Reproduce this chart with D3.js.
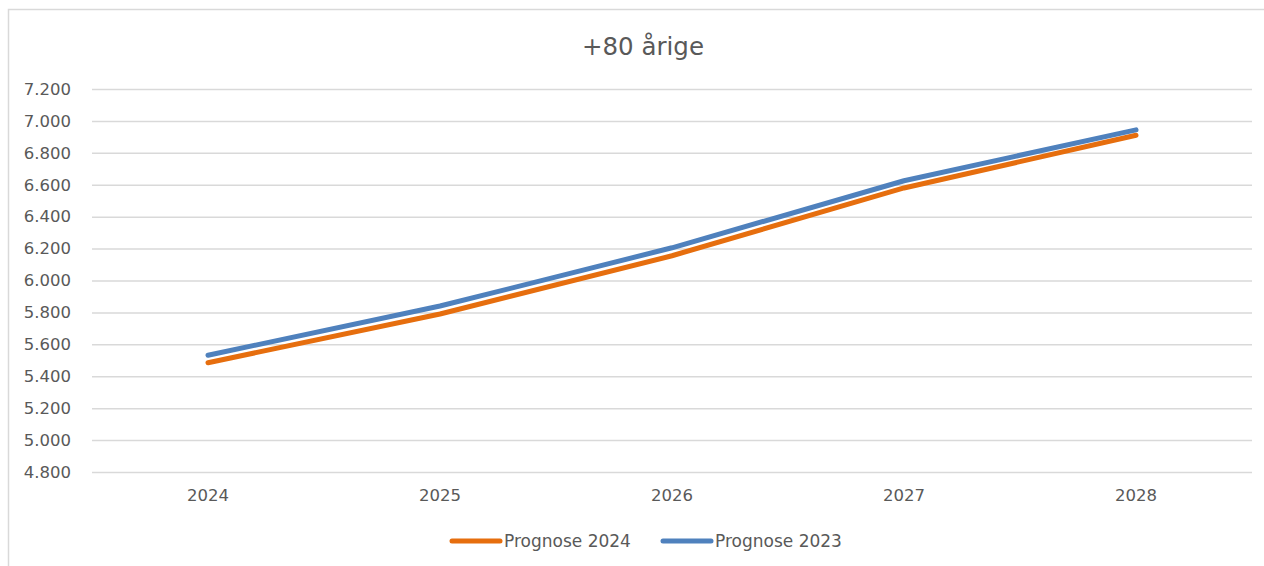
<!DOCTYPE html>
<html>
<head>
<meta charset="utf-8">
<script src="https://cdn.jsdelivr.net/npm/d3@7"></script>
<style>
body{margin:0;background:#fff;}
svg{display:block;}
text{font-family:"DejaVu Sans",sans-serif;fill:#595959;}
</style>
</head>
<body>
<svg id="c" width="1264" height="566"></svg>
<script>
const title = "+80 årige";
const years = ["2024","2025","2026","2027","2028"];
const prognose2024 = [5485, 5790, 6155, 6580, 6910];
const prognose2023 = [5532, 5840, 6205, 6625, 6944];
const yTicks = [4800,5000,5200,5400,5600,5800,6000,6200,6400,6600,6800,7000,7200];
const seriesNames = ["Prognose 2024","Prognose 2023"];
const seriesColors = ["#e66e0e","#4f81bd"];

const FONT = '"DejaVu Sans",sans-serif';
const svg = d3.select("#c");
svg.append("rect").attr("x",8.5).attr("y",9.5).attr("width",1300).attr("height",600)
  .attr("fill","#fff").attr("stroke","#d9d9d9").attr("stroke-width",1.5);

const m = {left:92, right:1252, top:89, bottom:472};
const x = d3.scaleBand().domain(years).range([m.left,m.right]);
const y = d3.scaleLinear().domain([4800,7200]).range([m.bottom,m.top]);
const loc = d3.formatLocale({decimal:",",thousands:".",grouping:[3],currency:["","kr"]});
const fmt = loc.format(",.0f");

const yAxis = d3.axisLeft(y).tickValues(yTicks).tickFormat(fmt).tickSize(-(m.right-m.left)).tickPadding(21);
const gy = svg.append("g").attr("transform",`translate(${m.left},0)`).call(yAxis);
gy.select(".domain").remove();
gy.selectAll(".tick line").attr("stroke","#d9d9d9").attr("stroke-width",1.5);
gy.selectAll(".tick text").attr("font-size",16.5).attr("fill","#595959").style("font-family",FONT);

const xAxis = d3.axisBottom(x).tickSize(0).tickPadding(17);
const gx = svg.append("g").attr("transform",`translate(0,${m.bottom})`).call(xAxis);
gx.select(".domain").remove();
gx.selectAll(".tick text").attr("font-size",16.5).attr("fill","#595959").style("font-family",FONT);

const line = d3.line().x((d,i)=>x(years[i])+x.bandwidth()/2).y(d=>y(d));
[prognose2024, prognose2023].forEach((s,k)=>{
  svg.append("path").datum(s).attr("d",line).attr("fill","none")
    .attr("stroke",seriesColors[k]).attr("stroke-width",5).attr("stroke-linecap","round").attr("stroke-linejoin","round");
});

svg.append("text").attr("x",643).attr("y",55).attr("text-anchor","middle")
  .attr("font-size",24.5).text(title);

const lg = [{x:452},{x:663}];
seriesNames.forEach((n,k)=>{
  const g = svg.append("g").attr("transform",`translate(${lg[k].x},541)`);
  g.append("line").attr("x1",0).attr("x2",48).attr("y1",0).attr("y2",0)
    .attr("stroke",seriesColors[k]).attr("stroke-width",5).attr("stroke-linecap","round");
  g.append("text").attr("x",52).attr("y",6).attr("font-size",17).text(n);
});
</script>
</body>
</html>
